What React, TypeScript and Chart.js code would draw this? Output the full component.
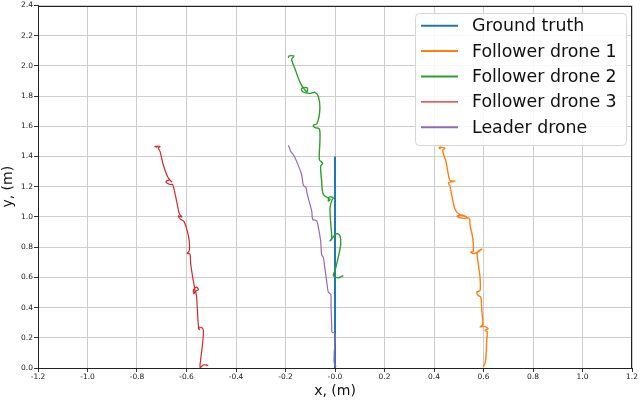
import React, { useEffect, useRef } from "react";
import { Chart, registerables } from "chart.js";

Chart.register(...registerables);

const seriesLabels = ["Ground truth", "Follower drone 1", "Follower drone 2", "Follower drone 3", "Leader drone"];
const seriesColors = ["#1f77b4", "#ff7f0e", "#2ca02c", "#d62728", "#9467bd"];

const groundTruthX = [0, 0];
const groundTruthY = [0, 1.4];

const follower1X = [0.599, 0.606, 0.61, 0.613, 0.615, 0.606, 0.619, 0.602, 0.586, 0.597, 0.593, 0.589, 0.579, 0.573, 0.586, 0.586, 0.579, 0.575, 0.593, 0.566, 0.548, 0.559, 0.556, 0.545, 0.543, 0.518, 0.494, 0.512, 0.532, 0.502, 0.485, 0.471, 0.465, 0.458, 0.485, 0.465, 0.458, 0.448, 0.435, 0.444, 0.421, 0.427];
const follower1Y = [0.009, 0.031, 0.074, 0.184, 0.239, 0.25, 0.261, 0.276, 0.272, 0.289, 0.382, 0.469, 0.48, 0.502, 0.513, 0.601, 0.689, 0.765, 0.787, 0.759, 0.765, 0.776, 0.864, 0.952, 0.991, 0.991, 1.004, 1.013, 1.0, 1.018, 1.051, 1.149, 1.204, 1.226, 1.237, 1.241, 1.281, 1.368, 1.439, 1.456, 1.461, 1.447];

const follower2X = [0.034, 0.013, -0.007, 0.0, 0.013, 0.023, 0.02, 0.007, -0.009, -0.02, -0.013, -0.017, -0.02, -0.013, -0.007, -0.023, -0.027, -0.02, -0.047, -0.054, -0.058, -0.05, -0.063, -0.061, -0.063, -0.081, -0.088, -0.072, -0.061, -0.067, -0.081, -0.104, -0.131, -0.135, -0.112, -0.114, -0.139, -0.162, -0.175, -0.166, -0.185, -0.189];
const follower2Y = [0.612, 0.597, 0.612, 0.645, 0.732, 0.82, 0.875, 0.89, 0.864, 0.842, 0.853, 0.952, 1.061, 1.11, 1.127, 1.132, 1.105, 1.116, 1.149, 1.237, 1.336, 1.357, 1.379, 1.5, 1.583, 1.592, 1.605, 1.62, 1.719, 1.796, 1.825, 1.818, 1.829, 1.851, 1.855, 1.829, 1.884, 1.982, 2.043, 2.066, 2.066, 2.053];

const follower3X = [-0.512, -0.532, -0.545, -0.543, -0.535, -0.532, -0.539, -0.552, -0.548, -0.552, -0.556, -0.559, -0.562, -0.552, -0.559, -0.572, -0.57, -0.566, -0.575, -0.583, -0.586, -0.597, -0.589, -0.589, -0.597, -0.61, -0.623, -0.633, -0.619, -0.629, -0.64, -0.656, -0.667, -0.683, -0.669, -0.659, -0.674, -0.694, -0.707, -0.714, -0.707, -0.727, -0.718];
const follower3Y = [0.018, 0.02, 0.004, 0.053, 0.162, 0.25, 0.268, 0.268, 0.254, 0.283, 0.382, 0.469, 0.509, 0.517, 0.535, 0.517, 0.491, 0.513, 0.601, 0.689, 0.754, 0.759, 0.776, 0.842, 0.908, 0.969, 0.984, 1.007, 1.0, 1.022, 1.105, 1.215, 1.215, 1.232, 1.246, 1.232, 1.259, 1.346, 1.434, 1.456, 1.467, 1.467, 1.461];

const leaderX = [0.004, -0.004, 0.0, 0.0, -0.012, -0.013, -0.016, -0.017, -0.027, -0.034, -0.044, -0.047, -0.054, -0.058, -0.067, -0.074, -0.09, -0.094, -0.112, -0.117, -0.128, -0.135, -0.155, -0.168, -0.179, -0.185, -0.189];
const leaderY = [0.009, 0.041, 0.184, 0.228, 0.239, 0.272, 0.403, 0.487, 0.502, 0.579, 0.699, 0.732, 0.75, 0.842, 0.93, 0.974, 0.984, 1.039, 1.149, 1.193, 1.211, 1.281, 1.368, 1.412, 1.434, 1.461, 1.474];

const xMin = -1.2;
const xMax = 1.2;
const yMin = 0;
const yMax = 2.4;
const tickStep = 0.2;

const toPoints = (xs: number[], ys: number[]) => xs.map((x, i) => ({ x, y: ys[i] }));

const frameAndLegend = {
  id: "frameAndLegend",
  afterDraw(chart: any) {
    const ctx = chart.ctx as CanvasRenderingContext2D;
    const a = chart.chartArea;
    ctx.save();
    ctx.strokeStyle = "#222";
    ctx.lineWidth = 1;
    ctx.strokeRect(Math.round(a.left) + 0.5, Math.round(a.top) + 0.5, Math.round(a.right - a.left) - 1, Math.round(a.bottom - a.top) - 1);

    // legend
    const bx = 415.5, by = 13.5, bw = 211, bh = 132, r = 4;
    ctx.beginPath();
    ctx.moveTo(bx + r, by);
    ctx.lineTo(bx + bw - r, by);
    ctx.quadraticCurveTo(bx + bw, by, bx + bw, by + r);
    ctx.lineTo(bx + bw, by + bh - r);
    ctx.quadraticCurveTo(bx + bw, by + bh, bx + bw - r, by + bh);
    ctx.lineTo(bx + r, by + bh);
    ctx.quadraticCurveTo(bx, by + bh, bx, by + bh - r);
    ctx.lineTo(bx, by + r);
    ctx.quadraticCurveTo(bx, by, bx + r, by);
    ctx.closePath();
    ctx.fillStyle = "rgba(255,255,255,0.85)";
    ctx.fill();
    ctx.strokeStyle = "#d6d6d6";
    ctx.stroke();

    ctx.font = "17.4px 'DejaVu Sans'";
    ctx.textBaseline = "middle";
    ctx.textAlign = "left";
    chart.data.datasets.forEach((ds: any, i: number) => {
      const cy = 25.7 + i * 25.4;
      ctx.beginPath();
      ctx.strokeStyle = ds.borderColor;
      ctx.lineWidth = i === 3 ? 1.2 : 2;
      ctx.moveTo(421, cy);
      ctx.lineTo(458, cy);
      ctx.stroke();
      ctx.fillStyle = "#111";
      ctx.fillText(ds.label, 472, cy + 1);
    });
    ctx.restore();
  },
};

export default function App() {
  const ref = useRef<HTMLCanvasElement | null>(null);

  useEffect(() => {
    if (!ref.current) return;
    const xs = [groundTruthX, follower1X, follower2X, follower3X, leaderX];
    const ys = [groundTruthY, follower1Y, follower2Y, follower3Y, leaderY];
    const widths = [2, 1.4, 1.4, 1.2, 1.2];
    const chart = new Chart(ref.current, {
      type: "scatter",
      data: {
        datasets: seriesLabels.map((label, i) => ({
          label,
          data: toPoints(xs[i], ys[i]),
          showLine: true,
          borderColor: seriesColors[i],
          backgroundColor: seriesColors[i],
          borderWidth: widths[i],
          pointRadius: 0,
          pointHoverRadius: 0,
          tension: i === 0 ? 0 : 0.3,
          order: i === 0 ? 10 : 5 - i,
        })),
      },
      options: {
        responsive: false,
        animation: false,
        events: [],
        layout: { padding: { left: 0, right: 8, top: 3, bottom: 0 } },
        plugins: {
          legend: { display: false },
          tooltip: { enabled: false },
        },
        scales: {
          x: {
            type: "linear",
            min: xMin,
            max: xMax,
            afterFit: (s: any) => {
              s.height = 32;
            },
            ticks: {
              stepSize: tickStep,
              autoSkip: false,
              maxRotation: 0,
              padding: 1,
              color: "#222",
              font: { family: "'DejaVu Sans'", size: 7.5 },
              callback: (v: any) => (Math.abs(Number(v)) < 1e-9 ? "-0.0" : Number(v).toFixed(1)),
            },
            grid: { color: "#cdcdcd", lineWidth: 1, tickLength: 4, tickColor: "#333" },
            border: { display: true, color: "#222", width: 1 },
            title: {
              display: true,
              text: "x, (m)",
              color: "#111",
              font: { family: "'DejaVu Sans'", size: 14 },
              padding: { top: 0, bottom: 0 },
            },
          },
          y: {
            type: "linear",
            min: yMin,
            max: yMax,
            afterFit: (s: any) => {
              s.width = 38;
            },
            ticks: {
              stepSize: tickStep,
              autoSkip: false,
              padding: 1,
              color: "#222",
              font: { family: "'DejaVu Sans'", size: 7.5 },
              callback: (v: any) => (Math.abs(Number(v)) < 1e-9 ? "0.0" : Number(v).toFixed(1)),
            },
            grid: { color: "#cdcdcd", lineWidth: 1, tickLength: 4, tickColor: "#333" },
            border: { display: true, color: "#222", width: 1 },
            title: {
              display: true,
              text: "y, (m)",
              color: "#111",
              font: { family: "'DejaVu Sans'", size: 14 },
              padding: { top: 0, bottom: 0 },
            },
          },
        },
      },
      plugins: [frameAndLegend],
    } as any);
    return () => chart.destroy();
  }, []);

  return (
    <div style={{ position: "absolute", left: 0, top: 0, width: 640, height: 400, background: "#fff" }}>
      <canvas ref={ref} width={640} height={400} style={{ display: "block", width: 640, height: 400 }} />
    </div>
  );
}
